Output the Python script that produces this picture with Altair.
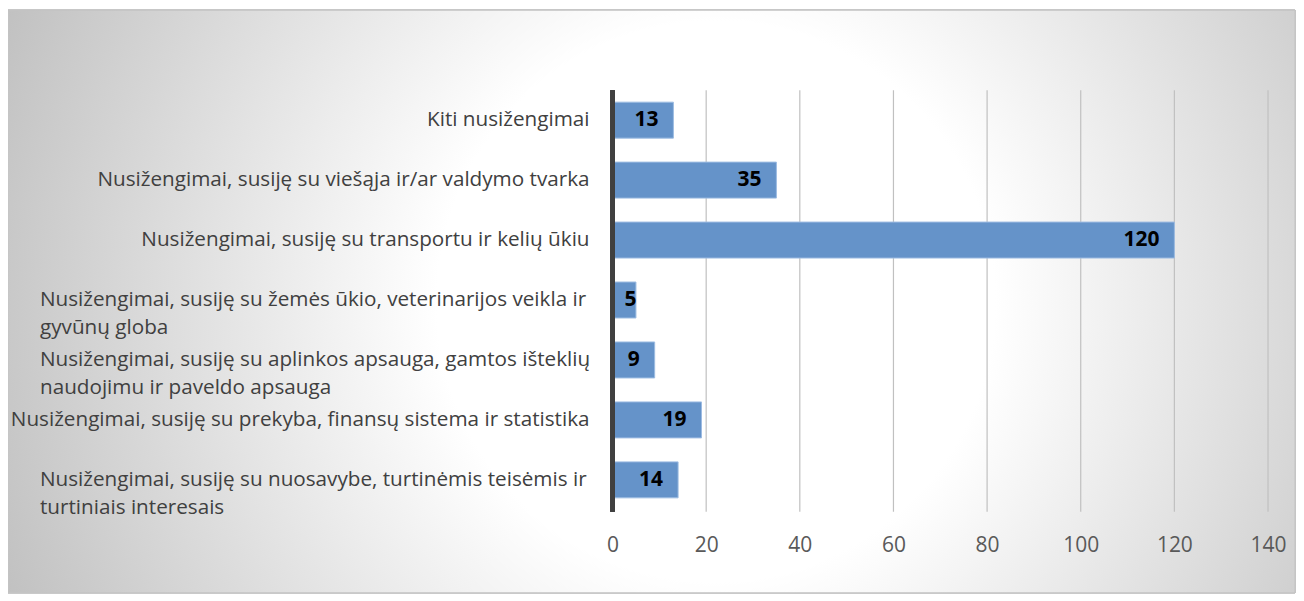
import altair as alt
import pandas as pd

categories = [
    "Kiti nusižengimai",
    "Nusižengimai, susiję su viešąja ir/ar valdymo tvarka",
    "Nusižengimai, susiję su transportu ir kelių ūkiu ",
    "Nusižengimai, susiję su žemės ūkio, veterinarijos veikla ir gyvūnų globa",
    "Nusižengimai, susiję su aplinkos apsauga, gamtos išteklių naudojimu ir paveldo apsauga",
    "Nusižengimai, susiję su prekyba, finansų sistema ir statistika",
    "Nusižengimai, susiję su nuosavybe, turtinėmis teisėmis ir turtiniais interesais",
]
display_labels = [
    "Kiti nusižengimai",
    "Nusižengimai, susiję su viešąja ir/ar valdymo tvarka",
    "Nusižengimai, susiję su transportu ir kelių ūkiu ",
    "Nusižengimai, susiję su žemės ūkio, veterinarijos veikla ir\ngyvūnų globa",
    "Nusižengimai, susiję su aplinkos apsauga, gamtos išteklių\nnaudojimu ir paveldo apsauga",
    "Nusižengimai, susiję su prekyba, finansų sistema ir statistika",
    "Nusižengimai, susiję su nuosavybe, turtinėmis teisėmis ir\nturtiniais interesais",
]
wrapped = [False, False, False, True, True, False, True]
values = [13, 35, 120, 5, 9, 19, 14]
x_ticks = [0, 20, 40, 60, 80, 100, 120, 140]

df = pd.DataFrame({
    "cat": categories,
    "label": display_labels,
    "wrapped": wrapped,
    "v": values,
})

FONT = "Open Sans"
W, H = 656, 420

x_scale = alt.Scale(domain=[0, 140])
x_axis = alt.Axis(values=x_ticks, grid=False, domain=False, ticks=False,
                  labelFont=FONT, labelFontSize=21, labelColor="#595959",
                  labelPadding=25, labelFlush=False, title=None, zindex=2)


def xq(field):
    return alt.X(field, type="quantitative", scale=x_scale, axis=x_axis, title=None)


y_enc = alt.Y("cat:N", sort=categories, axis=None,
              scale=alt.Scale(paddingInner=0.4, paddingOuter=0.2))

bg = alt.Chart(df).mark_rect(
    fill={
        "gradient": "radial",
        "x1": 0.55, "y1": 0.5, "r1": 0.0,
        "x2": 0.55, "y2": 0.5, "r2": 0.62,
        "stops": [
            {"offset": 0.0, "color": "#ffffff"},
            {"offset": 0.35, "color": "#ffffff"},
            {"offset": 1.0, "color": "#bdbdbd"},
        ],
    },
    stroke="#c4c4c4", strokeWidth=1,
).encode(
    x=alt.value(-605), x2=alt.value(683),
    y=alt.value(-80), y2=alt.value(503),
)

grid = alt.Chart(pd.DataFrame({"t": x_ticks[1:]})).mark_rule(
    color="#c0c0c0", strokeWidth=1.2
).encode(
    x=xq("t"),
    y=alt.value(0), y2=alt.value(H + 2),
)

bars = alt.Chart(df).mark_bar(
    color="#6593c9", stroke="#9dbce2", strokeWidth=1
).encode(
    x=xq("v"),
    y=y_enc,
)

zero = alt.Chart(df).mark_rule(color="#404040", strokeWidth=4).encode(
    x=alt.value(0), y=alt.value(0), y2=alt.value(H + 2)
)

vals = alt.Chart(df).transform_calculate(
    pos="max(datum.v, 8.3)"
).mark_text(
    font=FONT, fontSize=21, fontWeight="bold", color="#000000",
    align="right", baseline="middle", dx=-15
).encode(
    x=xq("pos"),
    y=y_enc,
    text="v:Q",
)

lab_single = alt.Chart(df).transform_filter("!datum.wrapped").mark_text(
    font=FONT, fontSize=20.7, color="#404040", align="right", baseline="middle"
).encode(
    x=alt.value(-23), y=y_enc, text="label:N"
)

lab_wrap = alt.Chart(df).transform_filter("datum.wrapped").mark_text(
    font=FONT, fontSize=20.7, color="#404040", align="left", baseline="middle",
    lineBreak="\n", lineHeight=28
).encode(
    x=alt.value(-573), y=y_enc, text="label:N"
)

chart = alt.layer(bg, grid, bars, zero, vals, lab_single, lab_wrap).properties(
    width=W, height=H,
    autosize=alt.AutoSizeParams(type="none"),
    padding={"left": 605, "top": 82, "right": 28, "bottom": 91},
).configure_view(stroke=None).configure(background="#ffffff")

chart.save("out.html", embed_options={"renderer": "svg", "actions": False})
